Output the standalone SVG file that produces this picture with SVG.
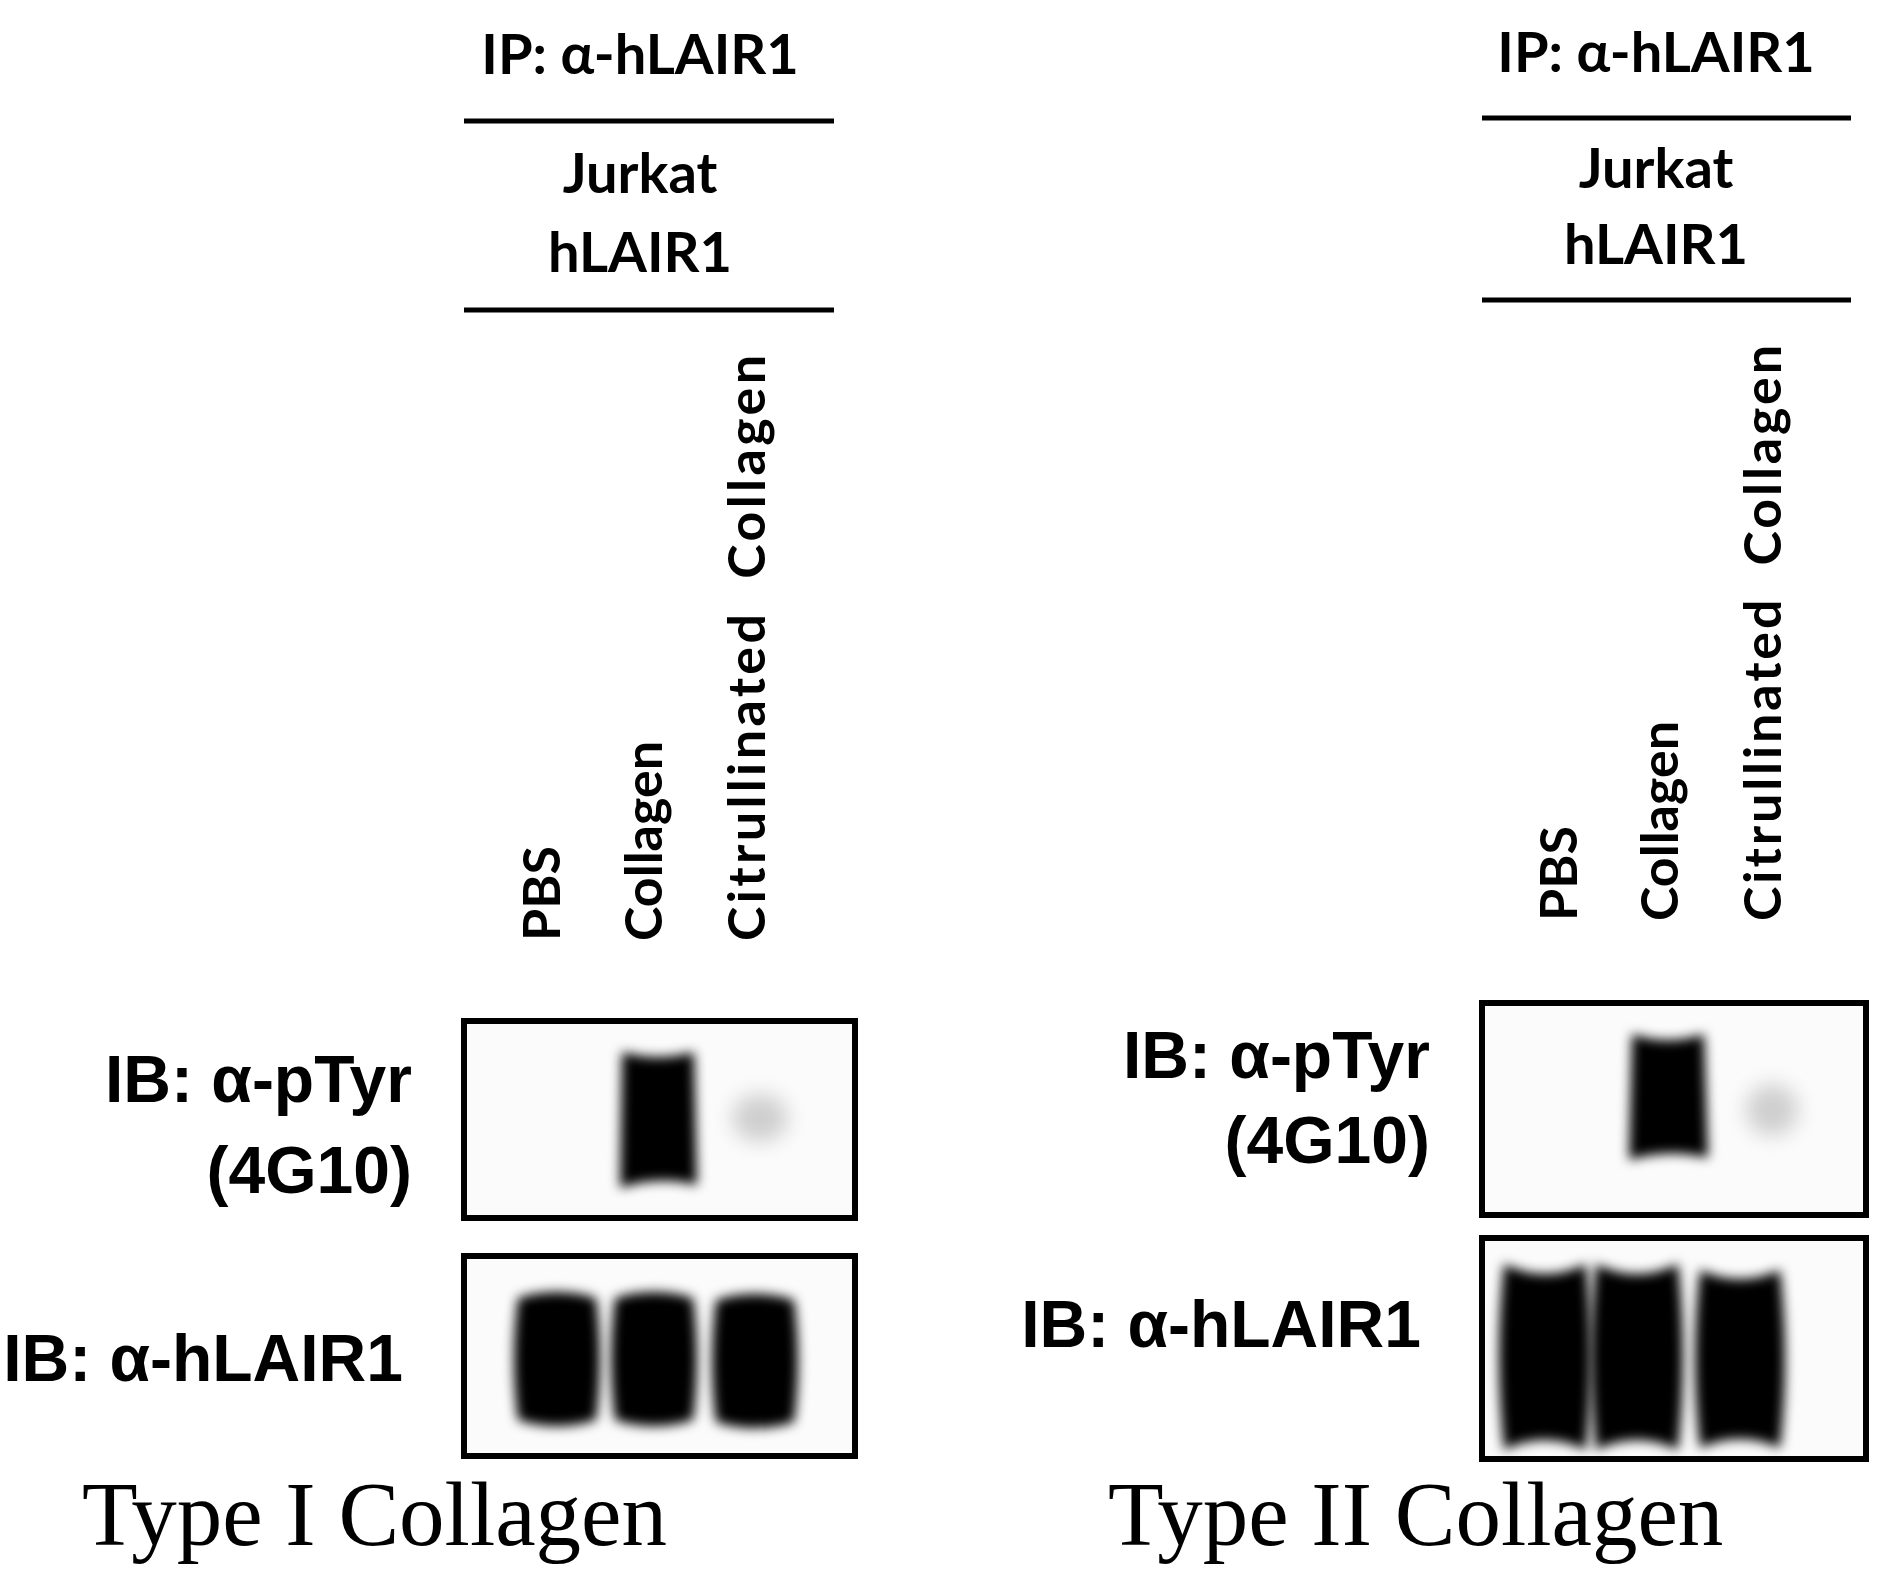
<svg xmlns="http://www.w3.org/2000/svg" width="1890" height="1580" viewBox="0 0 1890 1580">
<style>
.h{font-family:Lato,"Open Sans",sans-serif;font-weight:bold;font-size:56px;fill:#000;text-anchor:middle}
.v{font-family:Lato,"Open Sans",sans-serif;font-weight:bold;font-size:52px;fill:#000}
.ib{font-family:"Liberation Sans",Arial,sans-serif;font-weight:bold;font-size:66px;fill:#000;text-anchor:end}
.t{font-family:"Liberation Serif","Times New Roman",serif;font-size:91px;fill:#000}
.rule{stroke:#000;stroke-width:5}
.box{fill:#fbfbfb;stroke:#000;stroke-width:6}
.band{fill:#050505;filter:url(#b)}
.faint{fill:#cfcfcf;filter:url(#b2)}
</style>
<defs>
<filter id="b" x="-30%" y="-30%" width="160%" height="160%"><feGaussianBlur stdDeviation="6"/></filter>
<filter id="b2" x="-50%" y="-50%" width="200%" height="200%"><feGaussianBlur stdDeviation="10"/></filter>
</defs>
<rect width="1890" height="1580" fill="#fff"/>
<g id="left-header">
<text class="h" x="640" y="74">IP: α-hLAIR1</text>
<line class="rule" x1="464" y1="121" x2="834" y2="121"/>
<text class="h" x="640" y="193">Jurkat</text>
<text class="h" x="640" y="272">hLAIR1</text>
<line class="rule" x1="464" y1="310" x2="834" y2="310"/>
<text class="v" transform="translate(560,941) rotate(-90)">PBS</text>
<text class="v" transform="translate(662,941) rotate(-90)">Collagen</text>
<text class="v" transform="translate(765,941) rotate(-90)" textLength="586" xml:space="preserve">Citrullinated  Collagen</text>
</g>
<g id="left-blot1">
<rect class="box" x="464" y="1021" width="391" height="197"/>
<path class="band" d="M622,1052 Q658,1062 694,1052 L697,1185 Q658,1175 620,1188 Z"/>
<ellipse class="faint" cx="760" cy="1118" rx="28" ry="24"/>
</g>
<g id="left-blot2">
<rect class="box" x="464" y="1256" width="391" height="200"/>
<path class="band" d="M518,1298 Q557,1286 596,1298 Q604,1360 596,1420 Q557,1432 518,1420 Q510,1360 518,1298 Z"/>
<path class="band" d="M615,1298 Q654,1286 693,1298 Q701,1360 693,1420 Q654,1432 615,1420 Q607,1360 615,1298 Z"/>
<path class="band" d="M716,1300 Q755,1288 794,1300 Q802,1362 794,1422 Q755,1434 716,1422 Q708,1362 716,1300 Z"/>
</g>
<g id="left-labels">
<text class="ib" x="412" y="1102">IB: α-pTyr</text>
<text class="ib" x="412" y="1193">(4G10)</text>
<text class="ib" x="403" y="1381">IB: α-hLAIR1</text>
<text class="t" x="82" y="1545">Type I Collagen</text>
</g>
<g id="right-header">
<text class="h" x="1656" y="72">IP: α-hLAIR1</text>
<line class="rule" x1="1482" y1="118" x2="1851" y2="118"/>
<text class="h" x="1656" y="188">Jurkat</text>
<text class="h" x="1656" y="264">hLAIR1</text>
<line class="rule" x1="1482" y1="300" x2="1851" y2="300"/>
<text class="v" transform="translate(1577,921) rotate(-90)">PBS</text>
<text class="v" transform="translate(1678,921) rotate(-90)">Collagen</text>
<text class="v" transform="translate(1781,921) rotate(-90)" textLength="576" xml:space="preserve">Citrullinated  Collagen</text>
</g>
<g id="right-blot1">
<rect class="box" x="1482" y="1003" width="384" height="212"/>
<path class="band" d="M1632,1034 Q1668,1046 1704,1034 L1708,1158 Q1668,1148 1629,1160 Z"/>
<ellipse class="faint" cx="1772" cy="1110" rx="26" ry="26"/>
</g>
<g id="right-blot2">
<rect class="box" x="1482" y="1238" width="384" height="221"/>
<path class="band" d="M1504,1264 Q1545,1284 1586,1264 Q1596,1357 1586,1450 Q1545,1430 1504,1450 Q1494,1357 1504,1264 Z"/>
<path class="band" d="M1596,1264 Q1637,1284 1678,1264 Q1688,1357 1678,1450 Q1637,1430 1596,1450 Q1586,1357 1596,1264 Z"/>
<path class="band" d="M1700,1270 Q1740,1288 1780,1270 Q1790,1360 1780,1448 Q1740,1430 1700,1448 Q1690,1360 1700,1270 Z"/>
</g>
<g id="right-labels">
<text class="ib" x="1430" y="1078">IB: α-pTyr</text>
<text class="ib" x="1430" y="1163">(4G10)</text>
<text class="ib" x="1421" y="1347">IB: α-hLAIR1</text>
<text class="t" x="1108" y="1545">Type II Collagen</text>
</g>
</svg>
